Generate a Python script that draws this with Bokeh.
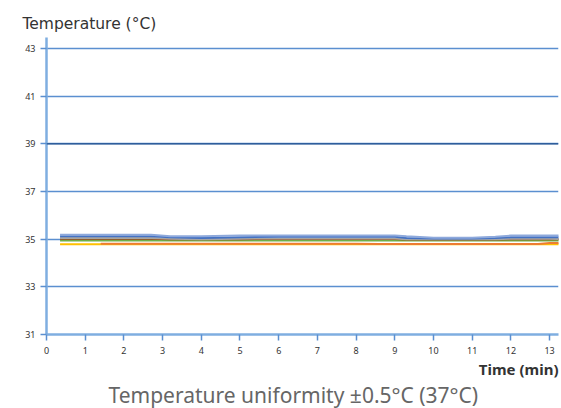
from bokeh.plotting import figure
from bokeh.models import Range1d, FixedTicker, Title, Span
from bokeh.embed import file_html
from bokeh.resources import INLINE

# ---- data ----
time_min = [0.35, 1, 2, 2.7, 3.2, 4, 5, 6, 7, 8, 9, 9.3, 10, 11, 11.6, 12, 13, 13.3]
probe_1 = [35.18, 35.18, 35.18, 35.18, 35.12, 35.12, 35.15, 35.15, 35.15, 35.15, 35.15, 35.12, 35.06, 35.06, 35.10, 35.15, 35.15, 35.15]
probe_2 = [35.12, 35.12, 35.12, 35.12, 35.08, 35.05, 35.08, 35.10, 35.10, 35.10, 35.10, 35.05, 35.03, 35.03, 35.05, 35.08, 35.08, 35.08]
probe_3 = [35.05, 35.05, 35.05, 35.05, 35.02, 35.00, 35.02, 35.03, 35.03, 35.03, 35.03, 35.00, 35.00, 35.00, 35.00, 35.02, 35.02, 35.00]
probe_4 = [35.02, 35.02, 35.02, 35.02, 35.00, 35.01, 35.00, 35.01, 35.01, 35.01, 35.01, 34.99, 34.99, 34.99, 34.99, 35.00, 35.00, 34.99]
probe_5 = [34.94] * 18
probe_6 = [34.79] * 18
time_orange = [1.4, 2, 4, 6, 8, 8.6, 12.7, 13.0, 13.3]
probe_7 = [34.81, 34.81, 34.81, 34.81, 34.81, 34.80, 34.80, 34.84, 34.84]

series = [
    (time_min, probe_6, "#FFC000"),
    (time_orange, probe_7, "#ED7D31"),
    (time_min, probe_5, "#70AD47"),
    (time_min, probe_4, "#9E480E"),
    (time_min, probe_3, "#A5A5A5"),
    (time_min, probe_2, "#4472C4"),
    (time_min, probe_1, "#8EA9DB"),
]

x_ticks = list(range(0, 14))
y_ticks = [31, 33, 35, 37, 39, 41, 43]
highlight_level = 39

p = figure(width=561, height=408, output_backend="svg", toolbar_location=None,
           x_range=Range1d(0, 13.23), y_range=Range1d(31, 43.46),
           min_border_left=46, min_border_right=3, min_border_top=37,
           min_border_bottom=74)
p.outline_line_color = None

for xs, ys, c in series:
    p.line(xs, ys, line_color=c, line_width=2)

p.xaxis.ticker = FixedTicker(ticks=x_ticks)
p.yaxis.ticker = FixedTicker(ticks=y_ticks)
p.xgrid.visible = False
p.ygrid.grid_line_color = "#5B8FD0"
p.ygrid.grid_line_width = 1.5
p.add_layout(Span(location=highlight_level, dimension="width",
                  line_color="#1F4E8C", line_width=1.2))

for ax in (p.xaxis, p.yaxis):
    ax.axis_line_color = "#7FAEE0"
    ax.axis_line_width = 2.5
    ax.major_tick_line_color = "#5B8FD0"
    ax.major_tick_line_width = 1.5
    ax.major_tick_out = 6
    ax.major_tick_in = 0
    ax.minor_tick_line_color = None
    ax.major_label_text_font = "Noto Sans"
    ax.major_label_text_font_size = "9px"
    ax.major_label_text_color = "#333333"
p.xaxis.major_label_standoff = 6
p.yaxis.major_label_standoff = 5

p.add_layout(Title(text="Temperature (°C)", align="left", offset=-24,
                   text_font="DejaVu Sans", text_font_size="15.5px",
                   text_font_style="normal", text_color="#333333"), "above")
p.add_layout(Title(text="Time (min)", align="right", standoff=0,
                   text_font="Noto Sans", text_font_size="15px",
                   text_font_style="bold", text_color="#333333"), "below")
p.add_layout(Title(text="Temperature uniformity ±0.5°C (37°C)", align="left",
                   standoff=0, offset=62,
                   text_font="Noto Sans", text_font_size="21px",
                   text_font_style="normal", text_color="#666666"), "below")

open("out.html", "w").write(file_html(p, INLINE))
